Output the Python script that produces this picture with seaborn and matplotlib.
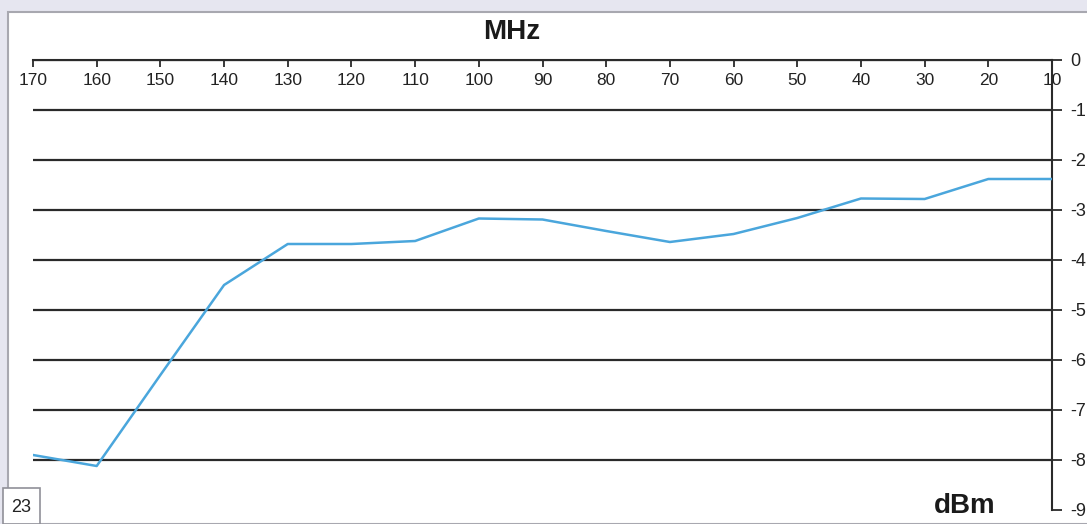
import pandas as pd
import matplotlib.pyplot as plt
import seaborn as sns
from matplotlib.patches import Rectangle

# frequency sweep (MHz) and measured level (dBm)
freq_mhz = [170, 160, 150, 140, 130, 120, 110, 100, 90, 80, 70, 60, 50, 40, 30, 20, 10]
level_dbm = [-7.9, -8.12, -6.3, -4.5, -3.68, -3.68, -3.62, -3.17, -3.19, -3.42,
             -3.64, -3.48, -3.16, -2.77, -2.78, -2.38, -2.38]
x_ticks = list(range(170, 0, -10))
y_ticks = list(range(0, -10, -1))
page_number = "23"

sns.set_style("white")
plt.rcParams["font.family"] = ["Liberation Sans", "DejaVu Sans"]
plt.rcParams["axes.unicode_minus"] = False

df = pd.DataFrame({"MHz": freq_mhz, "dBm": level_dbm})

fig = plt.figure(figsize=(10.87, 5.24), dpi=100)
fig.patch.set_facecolor("#e6e6f0")

# white page panel behind the chart
fig.patches.append(Rectangle((8 / 1087, 0), 1.0, 1 - 12 / 524, transform=fig.transFigure,
                             facecolor="white", edgecolor="#a8a8b0", linewidth=1.5, zorder=-2))
# page number box
fig.patches.append(Rectangle((3 / 1087, 0), 37 / 1087, 36 / 524, transform=fig.transFigure,
                             facecolor="white", edgecolor="#909098", linewidth=1.2, zorder=-1))
fig.text(21 / 1087, 16 / 524, page_number, fontsize=13, ha="center", va="center", color="#222222")

ax = fig.add_axes([33 / 1087, 1 - 510 / 524, (1052 - 33) / 1087, 450 / 524])
ax.set_facecolor("none")

sns.lineplot(data=df, x="MHz", y="dBm", color="#4aa6dc", linewidth=1.8, ax=ax, zorder=3)

ax.set_xlim(170, 10)
ax.set_ylim(-9, 0)
ax.set_xticks(x_ticks)
ax.set_yticks(y_ticks)
ax.set_xlabel("")
ax.set_ylabel("")

for side in ["left", "bottom"]:
    ax.spines[side].set_visible(False)
for side in ["top", "right"]:
    ax.spines[side].set_color("#2a2a2a")
    ax.spines[side].set_linewidth(1.5)

ax.xaxis.tick_top()
ax.tick_params(axis="x", direction="in", length=5, width=1.3, color="#2a2a2a",
               pad=-20, labelsize=12.5, labelcolor="#222222")
ax.yaxis.tick_right()
ax.tick_params(axis="y", direction="out", length=7, width=1.3, color="#2a2a2a",
               pad=6, labelsize=13, labelcolor="#222222")

ax.grid(axis="y", color="#2a2a2a", linewidth=1.6)
ax.grid(axis="x", visible=False)
ax.yaxis.get_gridlines()[-1].set_visible(False)

fig.text(512 / 1087, 1 - 32 / 524, "MHz", fontsize=20, fontweight="bold", ha="center",
         va="center", color="#1a1a1a")
fig.text(965 / 1087, 1 - 506 / 524, "dBm", fontsize=20, fontweight="bold", ha="center",
         va="center", color="#1a1a1a")

fig.savefig("out.png", dpi=100, facecolor=fig.get_facecolor())
